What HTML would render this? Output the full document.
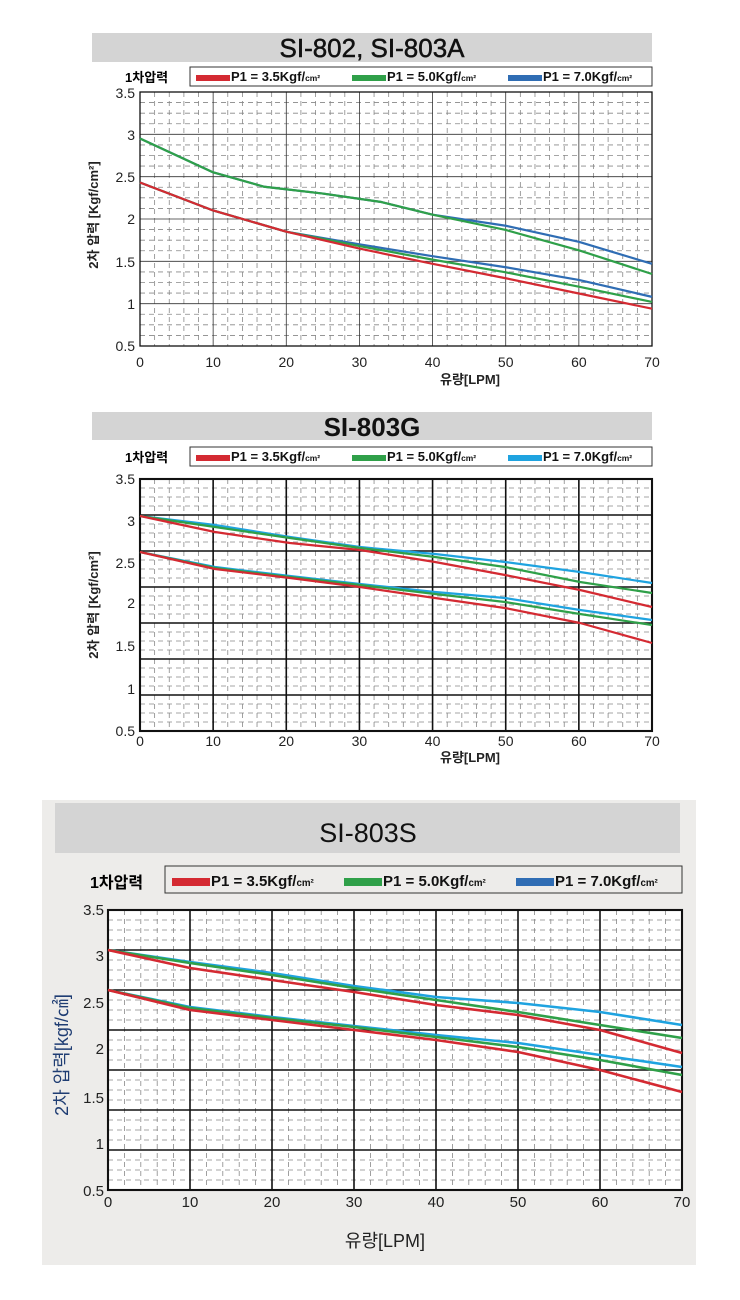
<!DOCTYPE html>
<html><head><meta charset="utf-8"><style>
body{margin:0;background:#fff;width:740px;height:1300px;overflow:hidden}
svg{display:block}
text{font-family:"Liberation Sans","Noto Sans CJK KR",sans-serif}
</style></head><body>
<svg id="s" width="740" height="1300" viewBox="0 0 740 1300" xmlns="http://www.w3.org/2000/svg">
<rect x="42" y="800" width="654" height="465" fill="#edecea"/>
<rect x="92" y="33" width="560" height="29" fill="#d4d4d4"/>
<text x="372" y="57" font-size="26" text-anchor="middle" fill="#111" stroke="#111" stroke-width="0.5">SI-802,  SI-803A</text>
<text x="125" y="82" font-size="13" font-weight="bold">1차압력</text>
<rect x="190" y="67" width="462" height="19" fill="#fff" stroke="#333"/>
<rect x="140" y="92" width="512" height="254" fill="#fff"/>
<rect x="92" y="412" width="560" height="28" fill="#d4d4d4"/>
<text x="372" y="436" font-size="26" font-weight="bold" text-anchor="middle" fill="#111">SI-803G</text>
<text x="125" y="462" font-size="13" font-weight="bold">1차압력</text>
<rect x="190" y="447" width="462" height="19" fill="#fff" stroke="#333"/>
<rect x="140" y="479" width="512" height="252" fill="#fff"/>
<rect x="55" y="803" width="625" height="50" fill="#d4d4d4"/>
<text x="368" y="842" font-size="27" text-anchor="middle" fill="#111">SI-803S</text>
<text x="90" y="888" font-size="16" font-weight="bold">1차압력</text>
<rect x="165" y="866" width="517" height="27" fill="#edecea" stroke="#333"/>
<rect x="108" y="910" width="574" height="280" fill="#fff"/>
<g id="g"></g>
</svg>
<script>
const NS="http://www.w3.org/2000/svg",g=document.getElementById('g');
function el(t,a,txt){const e=document.createElementNS(NS,t);for(const k in a)e.setAttribute(k,a[k]);if(txt!==undefined)e.textContent=txt;g.appendChild(e);return e;}
function chart(o){
 const {x0,x1,y0,y1,ny,major,sw}=o;const dx=(x1-x0)/7,dy=(y1-y0)/ny;
 for(let i=0;i<7;i++)for(let k=1;k<5;k++){const x=x0+dx*(i+k/5);el('line',{x1:x,x2:x,y1:y0,y2:y1,stroke:'#888','stroke-width':0.8,'stroke-dasharray':'5,4'});}
 for(let j=0;j<ny;j++)for(let k=1;k<4;k++){const y=y0+dy*(j+k/4);el('line',{x1:x0,x2:x1,y1:y,y2:y,stroke:'#888','stroke-width':0.8,'stroke-dasharray':'5,4'});}
 for(let i=1;i<7;i++){const x=x0+dx*i;el('line',{x1:x,x2:x,y1:y0,y2:y1,stroke:major,'stroke-width':sw});}
 for(let j=1;j<ny;j++){const y=y0+dy*j;el('line',{x1:x0,x2:x1,y1:y,y2:y,stroke:major,'stroke-width':sw});}
 el('rect',{x:x0,y:y0,width:x1-x0,height:y1-y0,fill:'none',stroke:'#111','stroke-width':sw+0.5});
 for(let i=0;i<=7;i++)el('text',{x:x0+dx*i,y:o.xly,'font-size':o.fs,'text-anchor':'middle',fill:'#222'},String(i*10));
 o.yl.forEach(([v,y])=>el('text',{x:o.ylx,y:y,'font-size':o.fs,'text-anchor':'end',fill:'#222'},v));
 el('text',{x:o.xt[0],y:o.xt[1],'font-size':o.xtfs,'text-anchor':'middle','font-weight':o.bold?'bold':'normal',fill:'#222'},'유량[LPM]');
 el('text',{x:0,y:0,'font-size':o.xtfs,'text-anchor':'middle','font-weight':o.bold?'bold':'normal',fill:o.ytc||'#222',transform:`translate(${o.yt[0]},${o.yt[1]}) rotate(-90)`},o.ytt);
 o.series.forEach(([c,pts])=>el('polyline',{points:pts.map(p=>p.join(',')).join(' '),fill:'none',stroke:c,'stroke-width':o.lw,'stroke-linejoin':'round'}));
 const L=o.leg;[['#d42a32','P1 = 3.5Kgf/'],['#2fa049','P1 = 5.0Kgf/'],[L.blue,'P1 = 7.0Kgf/']].forEach(([c,t],i)=>{
  const x=L.x+i*L.step;el('rect',{x:x,y:L.y-L.h,width:L.w,height:L.h,fill:c});
  const tx=el('text',{x:x+L.w+1,y:L.y,'font-size':L.fs,'font-weight':'bold',fill:'#111'},t);
  const ts=document.createElementNS(NS,'tspan');ts.setAttribute('font-size',L.fs*0.65);ts.textContent='cm²';tx.appendChild(ts);});
}
const R='#d42a32',G='#2fa049';
function v1(pts){return pts.map(([x,v])=>[140+x*512/70,346-(v-0.5)*84.7]);}
chart({x0:140,x1:652,y0:92,y1:346,ny:6,major:'#333',sw:0.8,xly:367,fs:14,
 yl:[['3.5',98],['3',140],['2.5',182],['2',224],['1.5',267],['1',309],['0.5',351]],ylx:135,
 xt:[470,384],xtfs:13,bold:1,yt:[98,215],ytt:'2차 압력 [Kgf/cm²]',lw:2.2,
 leg:{x:196,y:81,step:156,w:34,h:6,fs:13,blue:'#2f6db4'},
 series:[
 ['#2f6db4',v1([[0,2.95],[10,2.55],[17,2.38],[25,2.3],[33,2.2],[40,2.05],[50,1.92],[60,1.73],[70,1.47]])],
 [G,v1([[0,2.95],[10,2.55],[17,2.38],[25,2.3],[33,2.2],[40,2.05],[50,1.87],[60,1.63],[70,1.35]])],
 ['#2f6db4',v1([[0,2.43],[10,2.1],[20,1.85],[30,1.7],[40,1.56],[50,1.43],[60,1.28],[70,1.08]])],
 [G,v1([[0,2.43],[10,2.1],[20,1.85],[30,1.68],[40,1.52],[50,1.37],[60,1.2],[70,1.02]])],
 [R,v1([[0,2.43],[10,2.1],[20,1.85],[30,1.65],[40,1.47],[50,1.3],[60,1.12],[70,0.94]])]]});
const C='#1fa3e0';
chart({x0:140,x1:652,y0:479,y1:731,ny:7,major:'#111',sw:1.6,xly:746,fs:14,
 yl:[['3.5',484],['3',526],['2.5',568],['2',608],['1.5',651],['1',694],['0.5',736]],ylx:135,
 xt:[470,762],xtfs:13,bold:1,yt:[98,605],ytt:'2차 압력 [Kgf/cm²]',lw:2.2,
 leg:{x:196,y:461,step:156,w:34,h:6,fs:13,blue:C},
 series:[
 [C,[[140,516],[215,525],[290,537],[360,547],[435,554],[505,562],[580,572],[652,583]]],
 [G,[[140,516],[215,527],[290,538],[360,548],[435,557],[505,567],[580,582],[652,593]]],
 [R,[[140,516],[215,532],[290,543],[360,550],[435,562],[505,575],[580,590],[652,607]]],
 [C,[[140,552],[215,567],[290,576],[360,584],[435,592],[505,598],[580,610],[652,620]]],
 [G,[[140,552],[215,568],[290,577],[360,585],[435,594],[505,602],[580,614],[652,625]]],
 [R,[[140,552],[215,569],[290,578],[360,587],[435,598],[505,608],[580,623],[652,643]]]]});
chart({x0:108,x1:682,y0:910,y1:1190,ny:7,major:'#111',sw:1.6,xly:1207,fs:15,
 yl:[['3.5',915],['3',961],['2.5',1008],['2',1054],['1.5',1103],['1',1149],['0.5',1196]],ylx:104,
 xt:[385,1247],xtfs:18,bold:0,yt:[68,1055],ytt:'2차 압력[kgf/㎠]',ytc:'#1f3d73',lw:2.6,
 leg:{x:172,y:886,step:172,w:38,h:8,fs:15,blue:'#2f6db4'},
 series:[
 [C,[[108,950],[190,962],[272,973],[354,986],[436,997],[518,1003],[600,1012],[682,1025]]],
 [G,[[108,950],[190,963],[272,975],[354,988],[436,1000],[518,1012],[600,1025],[682,1038]]],
 [R,[[108,950],[190,968],[272,980],[354,992],[436,1005],[518,1015],[600,1030],[682,1053]]],
 [C,[[108,990],[190,1007],[272,1017],[354,1026],[436,1035],[518,1043],[600,1055],[682,1067]]],
 [G,[[108,990],[190,1008],[272,1018],[354,1027],[436,1037],[518,1047],[600,1060],[682,1075]]],
 [R,[[108,990],[190,1010],[272,1020],[354,1030],[436,1040],[518,1052],[600,1070],[682,1092]]]]});
</script>
</body></html>
